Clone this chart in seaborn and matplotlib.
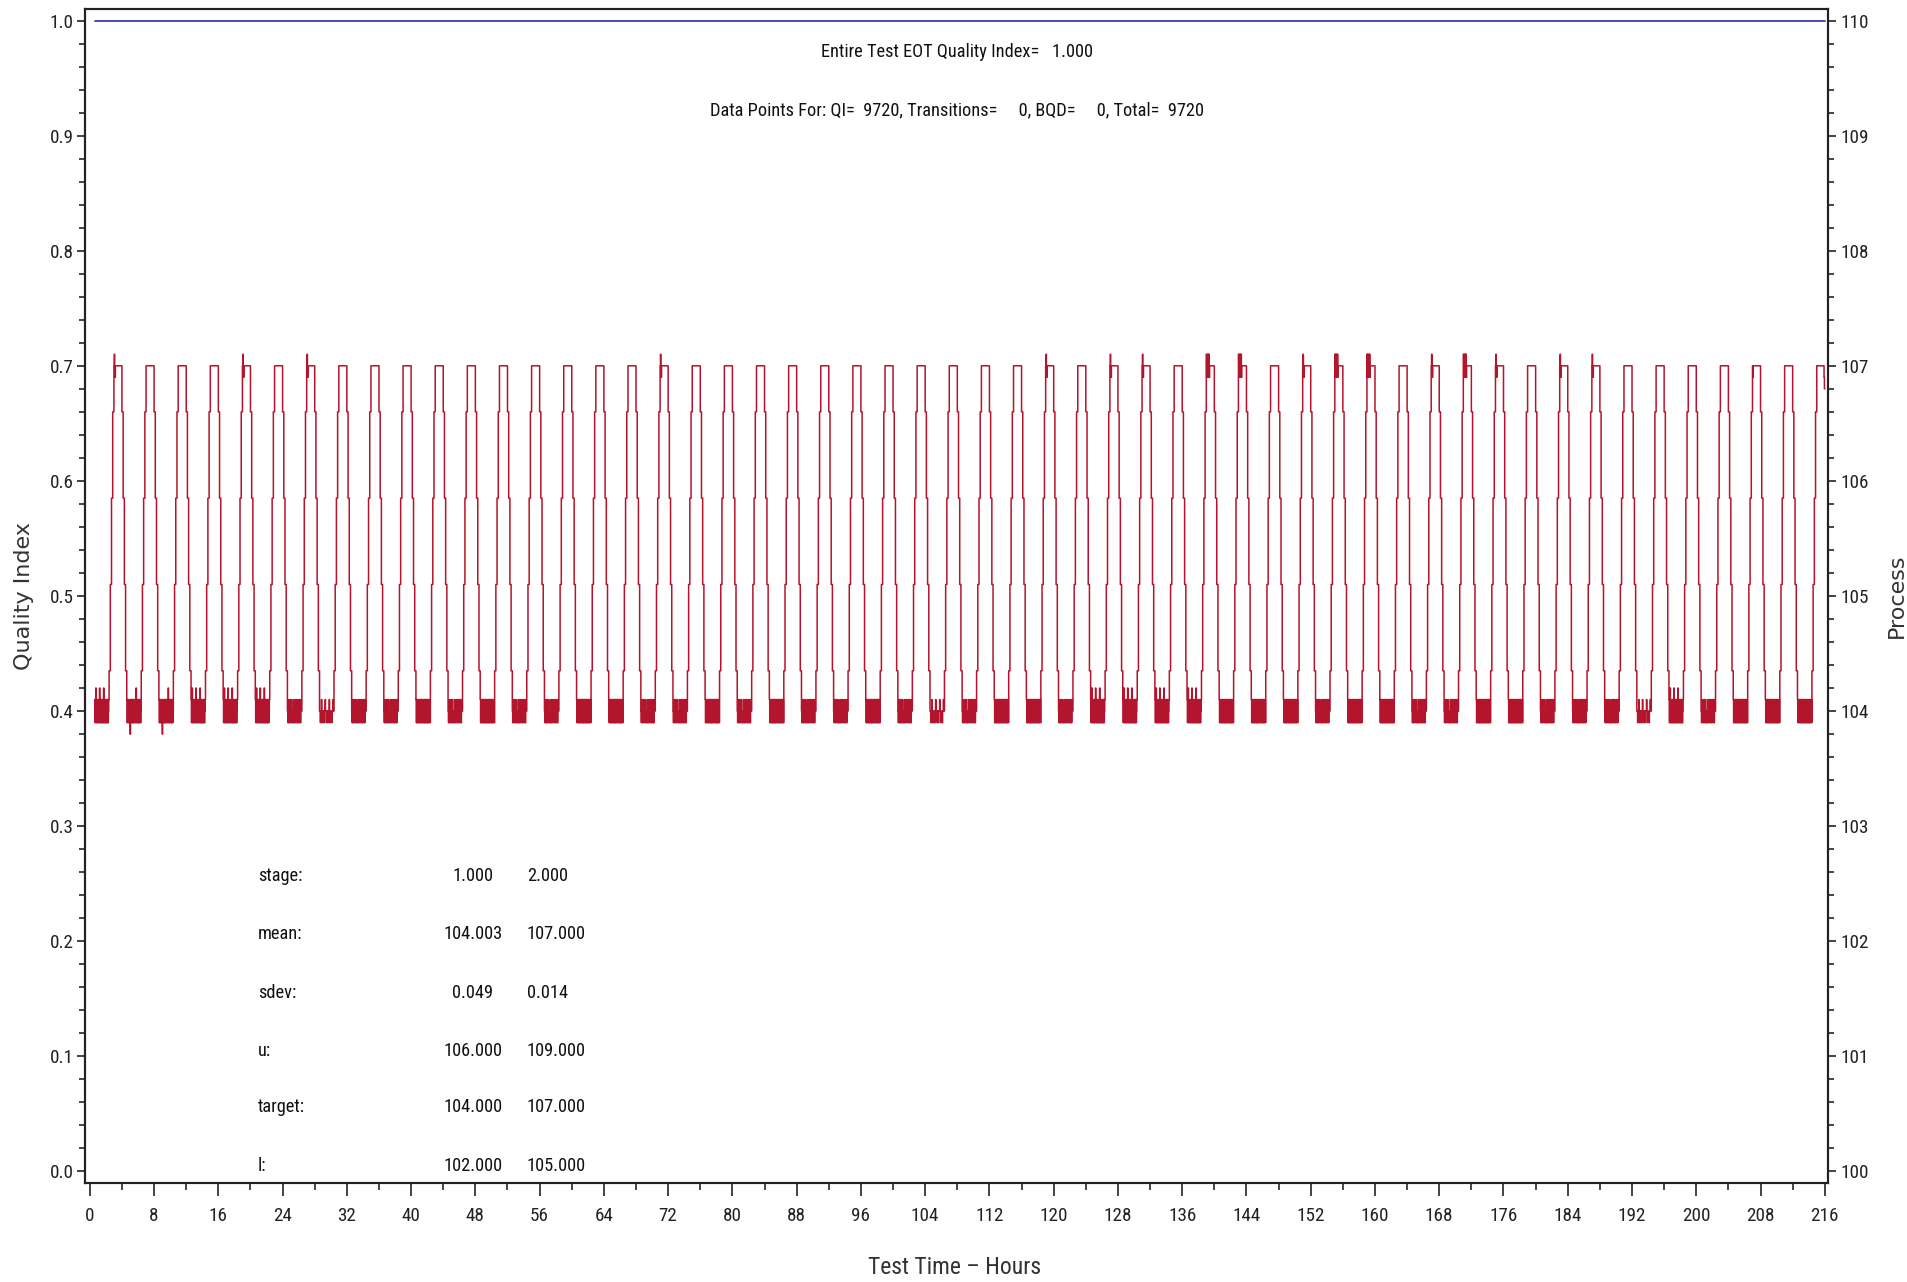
import numpy as np
import pandas as pd
import seaborn as sns
import matplotlib
matplotlib.use("Agg")
import matplotlib.pyplot as plt
from matplotlib import font_manager
from matplotlib.ticker import MultipleLocator, FormatStrFormatter

# ---- data ----
# quality index (blue line, left axis)
qi_hours = [0.6, 216.0]
qi_index = [1.0, 1.0]

# process signal (red line, right axis): 54 cycles of low stage (104) / high stage (107)
stage_low = 104.0
stage_high = 107.0
first_hour = 0.6
low_hours = 1.8
ramp_step_hours = 0.15
high_hours = 1.0
rise_levels = [104.35, 105.1, 105.85, 106.6]
fall_levels = [106.6, 105.85, 105.1, 104.35]

# noise around the setpoint, in steps: 0 = 0, + = +0.1, - = -0.1, P = +0.2, N = -0.2
low_patterns = {
    "D": "+-+-0+-+-+-0+-+-+-+-0+-+-+-+0-+-+-+-0+-",
    "E": "+-+P-+-0+-+-+P-+-+-0+-+-P-+-+0-+-+-+-0+",
    "F": "+-+-0+-+-N+-0+-+-+-+-0+-+P-+-+0-+-+-+-0",
    "M": "0-0+-0-0+0-+0-0-0+-0-0+0-0+-0-0+0-0-+00",
    "S": "00-00+-000-00-0+000-00-000+0-0000-00+00",
}
high_patterns = {
    "F": "0000000000000000000000",
    "K": "0+0-000000000000000000",
    "J": "+-+0-+0+-0000000000000",
    "Z": "0-00000000000000000000",
    "Y": "00000000000000000000-N",
}
low_code = "EFFEEEMSMMDMDMMDDM" + "MDMDMMDMSMDDMEEEEDD" + "DMDDMMDDMMMSEMDDD"
high_code = ("KFFFKFKFFFFFFFFFFK" + "FFFFFFFFFFFKFKKFJJ"
             + "FKJJFKJKFKKFFFFZFY")

step_value = {"0": 0.0, "+": 0.1, "-": -0.1, "P": 0.2, "N": -0.2}

# ---- build the step series ----
hours, process = [], []
t = first_hour
n_cycles = len(low_code)
for i in range(n_cycles):
    pat = low_patterns[low_code[i]]
    dt = low_hours / len(pat)
    for ch in pat:
        hours.append(t); process.append(stage_low + step_value[ch]); t += dt
    for lvl in rise_levels:
        hours.append(t); process.append(lvl); t += ramp_step_hours
    pat = high_patterns[high_code[i]]
    dt = high_hours / len(pat)
    for ch in pat:
        hours.append(t); process.append(stage_high + step_value[ch]); t += dt
    if i < n_cycles - 1:
        for lvl in fall_levels:
            hours.append(t); process.append(lvl); t += ramp_step_hours
hours.append(t); process.append(process[-1])

df = pd.DataFrame({"hours": hours, "process": process})

# ---- fonts: the original uses a narrow font, pick one if there is one ----
sns.set_style("ticks")
installed = font_manager.fontManager.ttflist
narrow_names = ["Liberation Sans Narrow", "Roboto Condensed", "Open Sans Condensed"]
found = [f.name for f in installed if f.name in narrow_names]
stretch = "normal"
if found:
    base_family = found[0]
    scale = 1.0
elif any(f.name == "DejaVu Sans" and f.stretch in ("condensed", "semi-condensed") for f in installed):
    base_family = "DejaVu Sans"
    stretch = "condensed"
    scale = 0.92
else:
    base_family = "DejaVu Sans"
    scale = 0.84
plt.rcParams["font.family"] = [base_family, "DejaVu Sans"]
plt.rcParams["font.stretch"] = stretch
fs = 13.2 * scale
tick_fs = 13.8 * scale

fig = plt.figure(figsize=(19.08, 12.82), dpi=100)
ax = fig.add_axes([85 / 1908, 1 - 1183 / 1282, 1743 / 1908, 1174 / 1282])
ax2 = ax.twinx()

sns.lineplot(x=qi_hours, y=qi_index, ax=ax, color="#4b4bab", linewidth=1.4)
sns.lineplot(data=df, x="hours", y="process", ax=ax2, color="#b3162c",
             linewidth=1.1, drawstyle="steps-post", estimator=None, sort=False)

ax.set_xlim(-0.6, 216.4)
ax.set_ylim(-0.01, 1.01)
ax2.set_ylim(99.9, 110.1)

ax.xaxis.set_major_locator(MultipleLocator(8))
ax.xaxis.set_minor_locator(MultipleLocator(4))
ax.yaxis.set_major_locator(MultipleLocator(0.1))
ax.yaxis.set_minor_locator(MultipleLocator(0.02))
ax.yaxis.set_major_formatter(FormatStrFormatter("%.1f"))
ax2.yaxis.set_major_locator(MultipleLocator(1))
ax2.yaxis.set_minor_locator(MultipleLocator(0.2))
ax2.yaxis.set_major_formatter(FormatStrFormatter("%d"))

ax.tick_params(axis="x", which="major", length=9, width=1.2, labelsize=tick_fs, pad=8, colors="#222222")
ax.tick_params(axis="x", which="minor", length=5, width=1.2)
ax.tick_params(axis="y", which="major", length=6, width=1.2, labelsize=tick_fs, pad=2, colors="#222222")
ax.tick_params(axis="y", which="minor", length=4, width=1.2)
ax2.tick_params(axis="y", which="major", length=6, width=1.2, labelsize=tick_fs, pad=3, colors="#222222")
ax2.tick_params(axis="y", which="minor", length=4, width=1.2)

for a in (ax, ax2):
    for s in a.spines.values():
        s.set_visible(True)
        s.set_linewidth(1.5)
        s.set_color("#222222")
    a.grid(False)

ax.set_xlabel("")
ax.set_ylabel("")
ax2.set_ylabel("")

fig.text(24 / 1908, 1 - 596 / 1282, "Quality Index", rotation=90,
         ha="center", va="center", fontsize=16, color="#333333",
         family=["DejaVu Sans"], stretch="normal")
fig.text(1897 / 1908, 1 - 596 / 1282, "Process", rotation=90,
         ha="center", va="center", fontsize=16, color="#333333",
         family=["DejaVu Sans"], stretch="normal")
fig.text(955 / 1908, 1 - 1268 / 1282, "Test Time – Hours",
         ha="center", va="center", fontsize=17 * scale, color="#333333")

ax.text(108, 0.973, "Entire Test EOT Quality Index=   1.000",
        ha="center", va="center", fontsize=fs, color="#111111")
ax.text(108, 0.922, "Data Points For: QI=  9720, Transitions=     0, BQD=     0, Total=  9720",
        ha="center", va="center", fontsize=fs, color="#111111")

stat_names = ["stage:", "mean:", "sdev:", "u:", "target:", "l:"]
stat_stage1 = ["1.000", "104.003", "0.049", "106.000", "104.000", "102.000"]
stat_stage2 = ["2.000", "107.000", "0.014", "109.000", "107.000", "105.000"]
stat_y = [0.2565, 0.206, 0.155, 0.105, 0.0557, 0.005]
for name, v1, v2, yy in zip(stat_names, stat_stage1, stat_stage2, stat_y):
    ax.text(20.9, yy, name, ha="left", va="center", fontsize=fs, color="#111111")
    ax.text(47.7, yy, v1, ha="center", va="center", fontsize=fs, color="#111111")
    ax.text(54.4, yy, v2, ha="left", va="center", fontsize=fs, color="#111111")

fig.savefig("out.png", dpi=100, facecolor="white")
